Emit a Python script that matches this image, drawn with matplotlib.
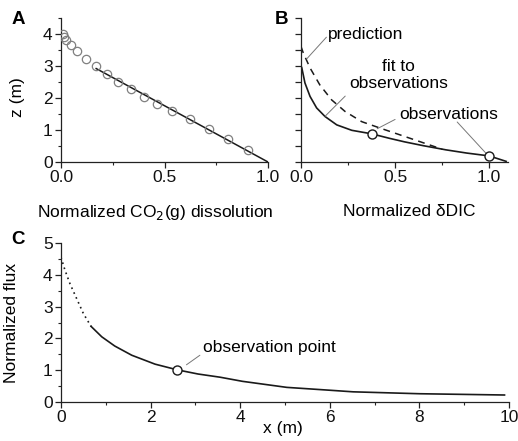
import matplotlib
matplotlib.use("Agg")
import matplotlib.pyplot as plt
from matplotlib.ticker import MultipleLocator, FixedLocator

plt.rcParams['font.family'] = ['Liberation Sans', 'DejaVu Sans']
plt.rcParams['font.size'] = 12.5

# ---- Panel A data ----
a_obs_x = [0.008, 0.014, 0.024, 0.047, 0.079, 0.119, 0.170, 0.222, 0.277, 0.338, 0.401, 0.465, 0.538, 0.623, 0.715, 0.808, 0.905]
a_obs_z = [4.01, 3.90, 3.80, 3.65, 3.46, 3.23, 3.00, 2.76, 2.51, 2.28, 2.03, 1.80, 1.59, 1.34, 1.04, 0.73, 0.37]
a_fit_x = [0.17, 1.0]
a_fit_z = [2.92, 0.0]

# ---- Panel B data ----
b_fit_x = [0.0, 0.004, 0.021, 0.048, 0.083, 0.128, 0.19, 0.27, 0.376, 0.47, 0.55, 0.65, 0.77, 0.88, 1.0, 1.09]
b_fit_z = [3.0, 2.95, 2.47, 2.05, 1.69, 1.42, 1.16, 0.99, 0.88, 0.74, 0.63, 0.51, 0.38, 0.28, 0.19, 0.02]
b_pred_x = [0.0, 0.012, 0.048, 0.10, 0.163, 0.234, 0.323, 0.43, 0.53, 0.63, 0.75]
b_pred_z = [3.61, 3.41, 2.94, 2.41, 1.94, 1.58, 1.26, 1.04, 0.84, 0.64, 0.40]
b_obs_x = [0.376, 1.0]
b_obs_z = [0.88, 0.19]

# ---- Panel C data ----
c_extrap_x = [0.0, 0.09, 0.20, 0.35, 0.50, 0.67]
c_extrap_y = [4.55, 4.14, 3.72, 3.25, 2.78, 2.38]
c_flux_x = [0.67, 0.91, 1.2, 1.58, 2.1, 2.6, 3.06, 3.55, 4.05, 5.04, 6.0, 6.52, 8.0, 9.9]
c_flux_y = [2.38, 2.05, 1.76, 1.47, 1.19, 1.01, 0.88, 0.78, 0.65, 0.46, 0.37, 0.32, 0.26, 0.22]
c_obs_x = [2.6]
c_obs_y = [1.01]

W, H = 518, 441
fig = plt.figure(figsize=(W / 100, H / 100), dpi=100)


def px_axes(left, top, right, bottom):
    return fig.add_axes([left / W, 1 - bottom / H, (right - left) / W, (bottom - top) / H])


def style(ax):
    for s in ('top', 'right'):
        ax.spines[s].set_visible(False)
    for s in ('left', 'bottom'):
        ax.spines[s].set_linewidth(0.9)
        ax.spines[s].set_color('#222222')
    ax.tick_params(which='major', direction='out', length=4, width=0.9, pad=2, colors='#222222',
                   labelcolor='#111111')
    ax.tick_params(which='minor', direction='out', length=2.5, width=0.8, colors='#222222')


lc = '#1a1a1a'
gl = '#777777'


def leader(ax, p0, p1):
    ax.annotate('', xy=p1, xytext=p0,
                arrowprops=dict(arrowstyle='-', color=gl, lw=0.7, shrinkA=0, shrinkB=0))


# Panel A
axA = px_axes(61, 18, 268, 162)
style(axA)
axA.plot(a_fit_x, a_fit_z, color=lc, lw=1.1, zorder=2)
axA.plot(a_obs_x, a_obs_z, 'o', mfc='none', mec='#808080', ms=6, mew=0.9, zorder=3)
axA.set_xlim(0, 1.0)
axA.set_ylim(0, 4.5)
axA.xaxis.set_major_locator(FixedLocator([0, 0.5, 1.0]))
axA.xaxis.set_minor_locator(MultipleLocator(0.25))
axA.yaxis.set_major_locator(FixedLocator([0, 1, 2, 3, 4]))
axA.yaxis.set_minor_locator(MultipleLocator(0.5))
axA.set_xticklabels(['0.0', '0.5', '1.0'])
axA.set_ylabel('z (m)')
axA.yaxis.set_label_coords((25 - 61) / 207, 0.45)
fig.text(155 / W, 1 - 213 / H, 'Normalized CO$_2$(g) dissolution', ha='center', va='center')
fig.text(18 / W, 1 - 19 / H, 'A', fontweight='bold', ha='center', va='center', fontsize=13.5)

# Panel B
axB = px_axes(301, 18, 508, 162)
style(axB)
axB.plot(b_pred_x, b_pred_z, color=lc, lw=1.1, ls=(0, (4.5, 3.5)), zorder=2)
axB.plot(b_fit_x, b_fit_z, color=lc, lw=1.2, zorder=2)
axB.plot(b_obs_x, b_obs_z, 'o', mfc='white', mec=lc, ms=6.5, mew=1.0, zorder=4)
axB.set_xlim(0, 1.1)
axB.set_ylim(0, 4.5)
axB.xaxis.set_major_locator(FixedLocator([0, 0.5, 1.0]))
axB.xaxis.set_minor_locator(MultipleLocator(0.25))
axB.set_xticklabels(['0.0', '0.5', '1.0'])
axB.yaxis.set_major_locator(FixedLocator([0, 0.5, 1, 1.5, 2, 2.5, 3, 3.5, 4, 4.5]))
axB.set_yticklabels([])
fig.text(409 / W, 1 - 212 / H, 'Normalized \u03b4DIC', ha='center', va='center')
axB.text(0.145, 3.98, 'prediction', ha='left', va='center')
leader(axB, (0.03, 3.22), (0.135, 3.9))
axB.text(0.52, 2.72, 'fit to\nobservations', ha='center', va='center', linespacing=1.1)
leader(axB, (0.128, 1.43), (0.235, 2.06))
axB.text(0.785, 1.47, 'observations', ha='center', va='center')
leader(axB, (0.405, 1.04), (0.50, 1.33))
leader(axB, (0.985, 0.26), (0.83, 1.25))
fig.text(281 / W, 1 - 19 / H, 'B', fontweight='bold', ha='center', va='center', fontsize=13.5)

# Panel C
axC = px_axes(61, 243, 509, 402)
style(axC)
axC.plot(c_extrap_x, c_extrap_y, color=lc, lw=1.2, ls=(0, (1, 2.2)), zorder=2)
axC.plot(c_flux_x, c_flux_y, color=lc, lw=1.2, zorder=2)
axC.plot(c_obs_x, c_obs_y, 'o', mfc='white', mec=lc, ms=6.5, mew=1.0, zorder=4)
axC.set_xlim(0, 10)
axC.set_ylim(0, 5)
axC.xaxis.set_major_locator(MultipleLocator(2))
axC.xaxis.set_minor_locator(MultipleLocator(1))
axC.yaxis.set_major_locator(MultipleLocator(1))
axC.yaxis.set_minor_locator(MultipleLocator(0.5))
fig.text(283 / W, 1 - 428 / H, 'x (m)', ha='center', va='center')
axC.set_ylabel('Normalized flux')
axC.yaxis.set_label_coords((19 - 61) / 448, 0.5)
axC.text(3.17, 1.72, 'observation point', ha='left', va='center')
leader(axC, (2.8, 1.17), (3.1, 1.47))
fig.text(18 / W, 1 - 239 / H, 'C', fontweight='bold', ha='center', va='center', fontsize=13.5)

fig.savefig('out.png', dpi=100)
